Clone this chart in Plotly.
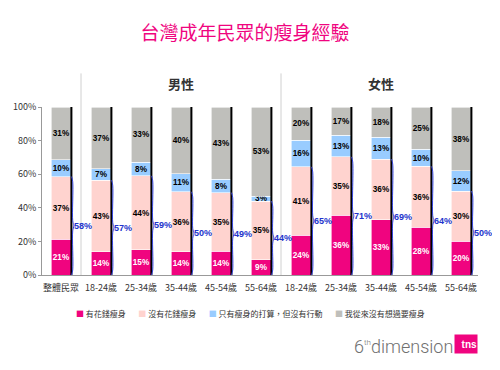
import plotly.graph_objects as go

categories = ["整體民眾", "18-24歲", "25-34歲", "35-44歲", "45-54歲", "55-64歲",
              "18-24歲", "25-34歲", "35-44歲", "45-54歲", "55-64歲"]
series_names = ["有花錢瘦身", "沒有花錢瘦身", "只有瘦身的打算，但沒有行動", "我從來沒有想過要瘦身"]
spent = [21, 14, 15, 14, 14, 9, 24, 36, 33, 28, 20]
not_spent = [37, 43, 44, 36, 35, 35, 41, 35, 36, 36, 30]
plan_only = [10, 7, 8, 11, 8, 3, 16, 13, 13, 10, 12]
never = [31, 37, 33, 40, 43, 53, 20, 17, 18, 25, 38]
bracket_labels = [58, 57, 59, 50, 49, 44, 65, 71, 69, 64, 50]
group_labels = ["男性", "女性"]
y_ticks = [0, 20, 40, 60, 80, 100]

colors = ["#F0047F", "#FFD3CF", "#99CCFF", "#BFBFBB"]
text_colors = ["white", "black", "black", "black"]
FONT = "Noto Sans CJK TC"
NUMFONT = "Liberation Sans Narrow, Liberation Sans, Arial"

xs = list(range(len(categories)))
series = [spent, not_spent, plan_only, never]
totals = [sum(v) for v in zip(*series)]

fig = go.Figure()
for name, vals, col, tcol in zip(series_names, series, colors, text_colors):
    fig.add_trace(go.Bar(
        x=xs, y=vals, name=name, width=0.5,
        marker=dict(color=col, line=dict(color="white", width=0.6)),
        text=[f"<b>{v}%</b>" for v in vals], textposition="inside",
        insidetextanchor="middle", textangle=0,
        textfont=dict(color=tcol, size=9, family=NUMFONT),
        showlegend=False, hoverinfo="skip",
    ))

# black right edge of each bar
ex, ey = [], []
for i in xs:
    ex += [i + 0.26, i + 0.26, None]
    ey += [0, 100, None]
fig.add_trace(go.Scatter(x=ex, y=ey, mode="lines", line=dict(color="black", width=2),
                         showlegend=False, hoverinfo="skip"))

# brackets for spent + not spent
bx, by = [], []
for i, a, b, t in zip(xs, spent, not_spent, totals):
    top = (a + b) / t * 100
    mid = top / 2
    x0, d = i + 0.265, 0.028
    bx += [x0, x0 + d, x0 + d, x0 + 2 * d, x0 + d, x0 + d, x0, None]
    by += [0, 3, mid - 3, mid, mid + 3, top - 3, top, None]
fig.add_trace(go.Scatter(x=bx, y=by, mode="lines", line=dict(color="#3344DD", width=1, shape="spline"),
                         showlegend=False, hoverinfo="skip"))
for i, a, b, t, lab in zip(xs, spent, not_spent, totals, bracket_labels):
    mid = (a + b) / t * 100 / 2
    fig.add_annotation(x=i + 0.30, y=mid, text=f"<b>{lab}%</b>", showarrow=False,
                       xanchor="left", yanchor="middle", borderpad=0,
                       font=dict(color="#2233CC", size=9, family=NUMFONT))

# separators
for sx in [0.5, 5.5]:
    fig.add_shape(type="line", xref="x", yref="paper", x0=sx, x1=sx, y0=0, y1=1.2,
                  line=dict(color="#D0D0D0", width=1))
# group labels
for gx, g in zip([3, 8], group_labels):
    fig.add_annotation(x=gx, y=(275 - 83) / 168, xref="x", yref="paper", text=f"<b>{g}</b>",
                       showarrow=False, yanchor="middle",
                       font=dict(size=13, color="#333333", family=FONT))

# legend row (small squares + labels)
legend_text = "&nbsp;&nbsp;&nbsp;&nbsp;&nbsp;&nbsp;&nbsp;".join(
    f"<span style='color:{c}'>■</span>&nbsp;{n}" for n, c in zip(series_names, colors))
fig.add_annotation(xref="paper", yref="paper", x=(250 - 42) / 436, y=(275 - 313) / 168,
                   xanchor="center", yanchor="middle", text=legend_text, showarrow=False,
                   font=dict(size=8, color="#333333", family=FONT))

# footer logo
fig.add_annotation(xref="paper", yref="paper", x=(454 - 42) / 436, y=(275 - 346) / 168,
                   xanchor="right", yanchor="middle",
                   text="6<sup><span style='font-size:8px'>th</span></sup>dimension", showarrow=False,
                   borderpad=0,
                   font=dict(size=18, color="#707070", family="Roboto", weight=300))
fig.add_annotation(xref="paper", yref="paper", x=1.0, y=(275 - 344) / 168, xanchor="right", yanchor="middle",
                   text="<b>tns</b>", showarrow=False, bgcolor="#F0047F", borderpad=0,
                   width=22, height=18, align="right",
                   font=dict(size=10, color="white", family="Liberation Sans"))

OFF = 8  # page body margin offset
fig.update_layout(
    barmode="stack", barnorm="percent",
    width=500, height=370,
    margin=dict(l=42 - OFF, r=500 - (478 - OFF), t=107 - OFF, b=370 - (275 - OFF), autoexpand=False),
    paper_bgcolor="white", plot_bgcolor="white",
    font=dict(family=FONT, size=9, color="#333333"),
    showlegend=False,
    title=dict(text="台灣成年民眾的瘦身經驗", x=(245 - OFF) / 500, xanchor="center",
               y=1 - (33 - OFF) / 370, yanchor="middle",
               font=dict(size=19, color="#F0047F", family=FONT)),
    xaxis=dict(range=[-0.475, 10.425], tickvals=xs, ticktext=categories, showgrid=False,
               zeroline=False, showline=True, linecolor="#999999", ticks="outside", ticklen=4,
               tickcolor="white", tickfont=dict(size=9)),
    yaxis=dict(range=[0, 100], tickvals=y_ticks, ticktext=[f"{v}%" for v in y_ticks], showgrid=False,
               zeroline=False, showline=True, linecolor="#999999", ticks="outside", ticklen=3,
               tickcolor="#999999", tickfont=dict(size=9)),
    uniformtext=dict(minsize=8, mode="show"),
)
fig.write_html("out.html")
